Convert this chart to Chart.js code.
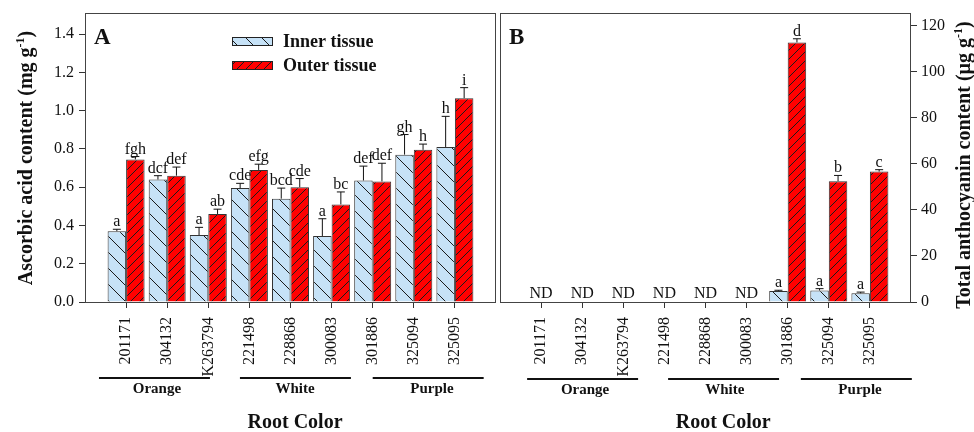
<!DOCTYPE html>
<html><head><meta charset="utf-8">
<script src="https://cdn.jsdelivr.net/npm/chart.js@4.4.1/dist/chart.umd.min.js"></script>
<style>
html,body{margin:0;padding:0;background:#fff;overflow:hidden;}
#wa{position:absolute;left:0;top:0;width:498px;height:432px;}
#wb{position:absolute;left:497px;top:0;width:477px;height:432px;}
</style></head><body>
<div id="wa"><canvas id="ca"></canvas></div>
<div id="wb"><canvas id="cb"></canvas></div>
<script>
// ---------- DATA ----------
const categories = ['201171','304132','K263794','221498','228868','300083','301886','325094','325095'];
const groupNames = ['Orange','White','Purple'];
const seriesNames = ['Inner tissue','Outer tissue'];
const xTitle = 'Root Color';

// Panel A: ascorbic acid (mg g-1)
const ascInner    = [0.37, 0.64, 0.35, 0.595, 0.54, 0.345, 0.635, 0.77, 0.81];
const ascInnerErr = [0.01, 0.02, 0.04, 0.025, 0.055, 0.09, 0.075, 0.105, 0.16];
const ascOuter    = [0.745, 0.66, 0.46, 0.69, 0.60, 0.51, 0.63, 0.795, 1.065];
const ascOuterErr = [0.015, 0.045, 0.025, 0.03, 0.045, 0.065, 0.095, 0.03, 0.055];
const ascInnerLetters = ['a','dcf','a','cde','bcd','a','def','gh','h'];
const ascOuterLetters = ['fgh','def','ab','efg','cde','bc','def','h','i'];
const ascTicks = [0, 0.2, 0.4, 0.6, 0.8, 1.0, 1.2, 1.4];

// Panel B: total anthocyanin (µg g-1)
const antInner    = [null, null, null, null, null, null, 4.8, 5.0, 3.8];
const antInnerErr = [null, null, null, null, null, null, 0.3, 0.8, 0.5];
const antOuter    = [null, null, null, null, null, null, 112.8, 52.5, 56.7];
const antOuterErr = [null, null, null, null, null, null, 1.6, 2.5, 0.8];
const antInnerLetters = ['','','','','','','a','a','a'];
const antOuterLetters = ['','','','','','','d','b','c'];
const antNotDetected = ['ND','ND','ND','ND','ND','ND','','',''];
const antTicks = [0, 20, 40, 60, 80, 100, 120];

// ---------- LAYOUT / STYLE ----------
const SERIF = '"Liberation Serif", "Times New Roman", serif';
const INK = '#111';
const FRAME = '#444';
const BLUE = '#C6E2F7';
const RED = '#FF0000';

function makePattern(ctx, bg, dir, step){
  const c = document.createElement('canvas'); c.width = step; c.height = step;
  const g = c.getContext('2d');
  g.fillStyle = bg; g.fillRect(0,0,step,step);
  g.strokeStyle = '#1a1a1a'; g.lineWidth = 1;
  g.beginPath();
  if (dir === 'back') {
    g.moveTo(-1,-1); g.lineTo(step+1,step+1);
    g.moveTo(-1,step-1); g.lineTo(1,step+1);
    g.moveTo(step-1,-1); g.lineTo(step+1,1);
  } else {
    g.moveTo(-1,step+1); g.lineTo(step+1,-1);
    g.moveTo(-1,1); g.lineTo(1,-1);
    g.moveTo(step-1,step+1); g.lineTo(step+1,step-1);
  }
  g.stroke();
  return ctx.createPattern(c,'repeat');
}

const pad = a => [null, ...a, null];
const labels = ['', ...categories, ''];

function drawRotTitle(ctx, x, cy, main, sup, tail, size){
  ctx.save();
  ctx.translate(x, cy);
  ctx.rotate(-Math.PI/2);
  ctx.fillStyle = INK;
  ctx.textBaseline = 'alphabetic';
  ctx.textAlign = 'left';
  const f1 = 'bold ' + size + 'px ' + SERIF;
  const f2 = 'bold ' + Math.round(size*0.6) + 'px ' + SERIF;
  ctx.font = f1; const w1 = ctx.measureText(main).width; const w3 = ctx.measureText(tail).width;
  ctx.font = f2; const w2 = ctx.measureText(sup).width;
  let sx = -(w1+w2+w3)/2;
  ctx.font = f1; ctx.fillText(main, sx, 0); sx += w1;
  ctx.font = f2; ctx.fillText(sup, sx, -size*0.42); sx += w2;
  ctx.font = f1; ctx.fillText(tail, sx, 0);
  ctx.restore();
}

function makeOverlay(cfg){
  return {
    id: 'overlay',
    afterDatasetsDraw(chart){
      const ctx = chart.ctx;
      const ys = chart.scales.y;
      ctx.save();
      cfg.errs.forEach((errArr, di) => {
        const meta = chart.getDatasetMeta(di);
        const vals = cfg.vals[di];
        const lets = cfg.letters[di];
        categories.forEach((c, i) => {
          const el = meta.data[i+1];
          if (!el || vals[i] == null) return;
          const x = el.x;
          const yTop = ys.getPixelForValue(vals[i]);
          const yErr = ys.getPixelForValue(vals[i] + (errArr[i] || 0));
          ctx.strokeStyle = INK; ctx.lineWidth = 1;
          ctx.beginPath();
          ctx.moveTo(x, yTop); ctx.lineTo(x, yErr);
          ctx.moveTo(x-4, yErr); ctx.lineTo(x+4, yErr);
          ctx.stroke();
          if (lets[i]) {
            ctx.fillStyle = INK;
            ctx.font = '16px ' + SERIF;
            ctx.textAlign = 'center'; ctx.textBaseline = 'alphabetic';
            ctx.fillText(lets[i], x, yErr - 3);
          }
        });
      });
      if (cfg.nd) {
        const xs = chart.scales.x;
        ctx.fillStyle = INK; ctx.font = '16px ' + SERIF;
        ctx.textAlign = 'center'; ctx.textBaseline = 'alphabetic';
        cfg.nd.forEach((t, i) => { if (t) ctx.fillText(t, xs.getPixelForValue(i+1), 298); });
      }
      ctx.restore();
    },
    afterDraw(chart){
      const ctx = chart.ctx;
      const a = chart.chartArea;
      const xs = chart.scales.x;
      ctx.save();
      ctx.strokeStyle = FRAME; ctx.lineWidth = 1;
      ctx.strokeRect(Math.round(a.left)+0.5, Math.round(a.top)+0.5, Math.round(a.right-a.left)-1, Math.round(a.bottom-a.top));
      ctx.fillStyle = INK; ctx.font = 'bold 23px ' + SERIF;
      ctx.textAlign = 'left'; ctx.textBaseline = 'alphabetic';
      ctx.fillText(cfg.panel, a.left + 9, 44);
      cfg.groups.forEach((g, gi) => {
        const x0 = xs.getPixelForValue(g.from), x1 = xs.getPixelForValue(g.to);
        ctx.strokeStyle = INK; ctx.lineWidth = 2;
        ctx.beginPath(); ctx.moveTo(x0, cfg.lineY); ctx.lineTo(x1, cfg.lineY); ctx.stroke();
        ctx.fillStyle = INK; ctx.font = 'bold 15px ' + SERIF;
        ctx.textAlign = 'center'; ctx.textBaseline = 'middle';
        ctx.fillText(groupNames[gi], xs.getPixelForValue(g.label), cfg.lineY + 11);
      });
      ctx.font = 'bold 20px ' + SERIF; ctx.textAlign = 'center'; ctx.textBaseline = 'middle';
      ctx.fillText(xTitle, xs.getPixelForValue(cfg.xTitleAt), 423);
      drawRotTitle(ctx, cfg.yTitleX, cfg.yTitleY, cfg.yTitle[0], cfg.yTitle[1], cfg.yTitle[2], 20);
      if (cfg.legend) {
        chart.data.datasets.forEach((ds, di) => {
          const y = 37 + di*24;
          ctx.fillStyle = ds.backgroundColor;
          ctx.fillRect(232, y, 41, 8);
          ctx.strokeStyle = '#222'; ctx.lineWidth = 1;
          ctx.strokeRect(232.5, y+0.5, 40, 8);
          ctx.fillStyle = INK; ctx.font = 'bold 18px ' + SERIF;
          ctx.textAlign = 'left'; ctx.textBaseline = 'middle';
          ctx.fillText(seriesNames[di], 283, y + 5);
        });
      }
      ctx.restore();
    }
  };
}

function xAxis(){
  return {
    type: 'category', offset: false,
    grid: { offset: false, drawOnChartArea: false, drawTicks: true, tickLength: 6,
            tickColor: c => (c.index === 0 || c.index === labels.length-1) ? 'rgba(0,0,0,0)' : '#333' },
    border: { display: false },
    ticks: { autoSkip: false, minRotation: 90, maxRotation: 90, padding: 9,
             color: INK, font: { family: SERIF, size: 16 } },
    afterFit: s => { s.height = 130; s.paddingLeft = 0; s.paddingRight = 0; }
  };
}

function buildChart(id, cfg){
  const canvas = document.getElementById(id);
  const ctx = canvas.getContext('2d');
  const pBlue = makePattern(ctx, BLUE, 'back', 16);
  const pRed = makePattern(ctx, RED, 'fwd', 9);
  return new Chart(canvas, {
    type: 'bar',
    data: {
      labels: labels,
      datasets: [
        { label: seriesNames[0], data: pad(cfg.vals[0]), backgroundColor: pBlue, borderColor: '#333', borderWidth: 1,
          categoryPercentage: 0.9, barPercentage: 1.0 },
        { label: seriesNames[1], data: pad(cfg.vals[1]), backgroundColor: pRed, borderColor: '#333', borderWidth: 1,
          categoryPercentage: 0.9, barPercentage: 1.0 }
      ]
    },
    options: {
      responsive: true, maintainAspectRatio: false, animation: false,
      layout: { padding: cfg.padding },
      plugins: { legend: { display: false }, tooltip: { enabled: false } },
      scales: {
        x: xAxis(),
        y: {
          position: cfg.yPos, min: 0, max: cfg.yMax,
          afterBuildTicks: s => { s.ticks = cfg.ticks.map(v => ({ value: v })); },
          grid: { drawOnChartArea: false, drawTicks: true, tickLength: 6, tickColor: '#333' },
          border: { display: false },
          ticks: { padding: cfg.tickPad, color: INK, font: { family: SERIF, size: 16 },
                   callback: v => cfg.fmt(v) },
          afterFit: s => { s.width = cfg.yWidth; s.paddingTop = 0; s.paddingBottom = 0; }
        }
      }
    },
    plugins: [makeOverlay(cfg)]
  });
}

buildChart('ca', {
  panel: 'A',
  vals: [ascInner, ascOuter], errs: [ascInnerErr, ascOuterErr], letters: [ascInnerLetters, ascOuterLetters],
  ticks: ascTicks, yMax: 1.51, yPos: 'left', yWidth: 85, tickPad: 5, fmt: v => v.toFixed(1),
  padding: { top: 13, right: 2, left: 0, bottom: 0 },
  groups: [ {from:0.34, to:3.04, label:1.75}, {from:3.77, to:6.47, label:5.11}, {from:7.0, to:9.7, label:8.44} ],
  lineY: 378, xTitleAt: 5.11,
  yTitle: ['Ascorbic acid content (mg g', '-1', ')'], yTitleX: 32, yTitleY: 158,
  legend: true
});

buildChart('cb', {
  panel: 'B',
  vals: [antInner, antOuter], errs: [antInnerErr, antOuterErr], letters: [antInnerLetters, antOuterLetters],
  nd: antNotDetected,
  ticks: antTicks, yMax: 125.6, yPos: 'right', yWidth: 63, tickPad: 4, fmt: v => String(v),
  padding: { top: 13, right: 0, left: 3, bottom: 0 },
  groups: [ {from:0.66, to:3.36, label:2.07}, {from:4.09, to:6.79, label:5.47}, {from:7.32, to:10.02, label:8.76} ],
  lineY: 379, xTitleAt: 5.43,
  yTitle: ['Total anthocyanin content (\u00b5g g', '-1', ')'], yTitleX: 473, yTitleY: 165,
  legend: false
});
</script>
</body></html>
